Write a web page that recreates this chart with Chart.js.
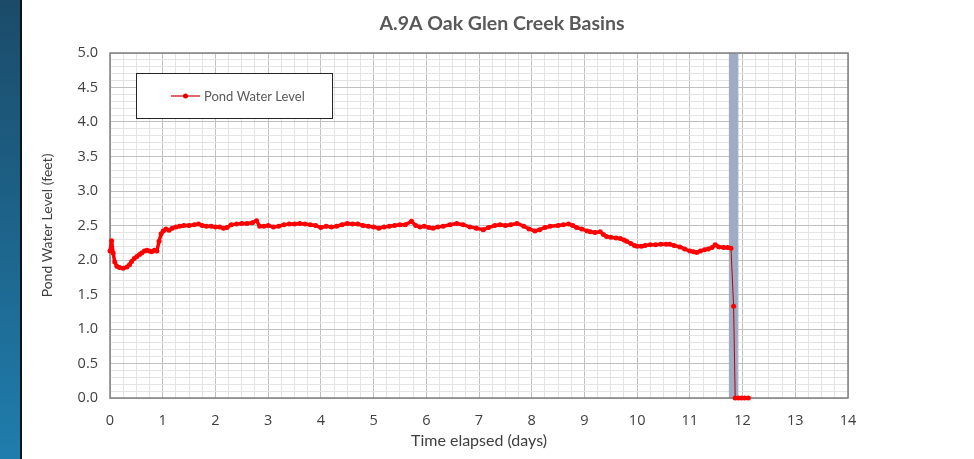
<!DOCTYPE html>
<html>
<head>
<meta charset="utf-8">
<title>A.9A Oak Glen Creek Basins</title>
<script src="https://cdn.jsdelivr.net/npm/chart.js@4.4.1/dist/chart.umd.min.js"></script>
<style>
  html, body { margin: 0; padding: 0; background: #fff; }
  .page { position: relative; width: 974px; height: 459px; overflow: hidden; }
  .side { position: absolute; left: 0; top: 0; width: 20px; height: 459px;
          background: linear-gradient(#1b4b69, #1f7dad); border-right: 2px solid #111; }
  #chart { position: absolute; left: 0; top: 0; }
</style>
</head>
<body>
<div class="page">
  <div class="side"></div>
  <canvas id="chart" width="974" height="459"></canvas>
</div>
<script>
// Pond water level readings (time in days, level in feet)
const days = [
  0.00, 0.03, 0.06, 0.09, 0.13, 0.18, 0.25, 0.32, 0.37, 0.41, 0.46, 0.51, 0.56, 0.60, 0.65, 0.70, 0.75, 0.79, 0.84, 0.89,
  0.93, 0.97, 1.01, 1.06, 1.12, 1.18, 1.25, 1.32, 1.40, 1.50, 1.60, 1.68, 1.75, 1.83, 1.92, 2.00, 2.08, 2.15, 2.22, 2.30,
  2.40, 2.50, 2.60, 2.70, 2.78, 2.84, 2.92, 3.00, 3.10, 3.20, 3.30, 3.40, 3.50, 3.60, 3.70, 3.80, 3.90, 4.00, 4.10, 4.20,
  4.30, 4.40, 4.50, 4.60, 4.70, 4.80, 4.90, 5.00, 5.10, 5.20, 5.30, 5.40, 5.50, 5.60, 5.72, 5.80, 5.88, 5.96, 6.05, 6.13,
  6.22, 6.32, 6.45, 6.58, 6.70, 6.83, 6.95, 7.08, 7.18, 7.30, 7.40, 7.50, 7.60, 7.72, 7.85, 7.95, 8.06, 8.15, 8.25, 8.35,
  8.50, 8.60, 8.70, 8.78, 8.85, 8.95, 9.05, 9.11, 9.20, 9.30, 9.36, 9.42, 9.50, 9.60, 9.68, 9.75, 9.80, 9.88, 9.95, 10.00,
  10.08, 10.15, 10.25, 10.35, 10.45, 10.55, 10.62, 10.70, 10.81, 10.90, 11.00, 11.07, 11.13, 11.20, 11.28, 11.35, 11.42, 11.48, 11.55, 11.64,
  11.72, 11.78, 11.83, 11.86, 11.92, 11.98, 12.04, 12.11
];
const level = [
  2.13, 2.28, 2.10, 1.97, 1.91, 1.89, 1.88, 1.90, 1.93, 1.98, 2.02, 2.05, 2.08, 2.10, 2.13, 2.14, 2.13, 2.12, 2.14, 2.13,
  2.27, 2.38, 2.42, 2.45, 2.43, 2.46, 2.48, 2.49, 2.50, 2.50, 2.51, 2.52, 2.50, 2.49, 2.49, 2.48, 2.48, 2.46, 2.47, 2.51,
  2.52, 2.53, 2.53, 2.54, 2.57, 2.49, 2.49, 2.50, 2.48, 2.49, 2.51, 2.52, 2.52, 2.53, 2.52, 2.51, 2.50, 2.47, 2.49, 2.48,
  2.49, 2.51, 2.53, 2.52, 2.52, 2.50, 2.49, 2.48, 2.46, 2.48, 2.49, 2.50, 2.51, 2.51, 2.56, 2.50, 2.48, 2.49, 2.47, 2.46,
  2.48, 2.49, 2.51, 2.53, 2.51, 2.48, 2.46, 2.44, 2.47, 2.50, 2.51, 2.50, 2.51, 2.53, 2.49, 2.45, 2.42, 2.44, 2.47, 2.49,
  2.50, 2.51, 2.52, 2.50, 2.47, 2.45, 2.42, 2.41, 2.40, 2.41, 2.37, 2.34, 2.33, 2.32, 2.31, 2.29, 2.27, 2.24, 2.21, 2.20,
  2.20, 2.21, 2.22, 2.22, 2.23, 2.23, 2.23, 2.21, 2.19, 2.16, 2.13, 2.12, 2.11, 2.13, 2.15, 2.16, 2.18, 2.22, 2.19, 2.18,
  2.18, 2.17, 1.33, 0.00, 0.00, 0.00, 0.00, 0.00
];

// axis ranges and shaded period (days)
const xRange = [0, 14];
const yRange = [0, 5];
const xMajorStep = 1, xMinorStep = 0.25;
const yMajorStep = 0.5, yMinorStep = 0.1;
const shadedDays = [11.74, 11.92];

const chartTitle = 'A.9A Oak Glen Creek Basins';
const seriesName = 'Pond Water Level';

const points = days.map((d, i) => ({ x: d, y: level[i] }));

const isMajor = (v, step) => Math.abs(v / step - Math.round(v / step)) < 1e-6;

const decor = {
  id: 'decor',
  beforeDatasetsDraw(chart) {
    const { ctx, chartArea: a, scales: { x } } = chart;
    ctx.save();
    // shaded band
    const x0 = x.getPixelForValue(shadedDays[0]);
    const x1 = x.getPixelForValue(shadedDays[1]);
    ctx.fillStyle = '#a0abc4';
    ctx.fillRect(x0, a.top, x1 - x0, a.bottom - a.top);
    // plot frame
    ctx.strokeStyle = '#808080';
    ctx.lineWidth = 1.5;
    ctx.strokeRect(a.left, a.top, a.right - a.left, a.bottom - a.top);
    ctx.restore();
  },
  afterDraw(chart) {
    const { ctx } = chart;
    ctx.save();
    // title
    ctx.font = 'bold 19.5px Lato';
    ctx.fillStyle = '#595959';
    ctx.textAlign = 'center';
    ctx.textBaseline = 'middle';
    ctx.fillText(chartTitle, 502, 24);
    // legend box
    ctx.fillStyle = '#fff';
    ctx.fillRect(136.5, 73.5, 196, 45);
    ctx.strokeStyle = '#262626';
    ctx.lineWidth = 1;
    ctx.strokeRect(136.5, 73.5, 196, 45);
    ctx.strokeStyle = '#d00000';
    ctx.lineWidth = 1.2;
    ctx.beginPath();
    ctx.moveTo(171, 96);
    ctx.lineTo(200, 96);
    ctx.stroke();
    ctx.fillStyle = '#e00000';
    ctx.beginPath();
    ctx.arc(185.5, 96, 2.5, 0, Math.PI * 2);
    ctx.fill();
    ctx.font = '13px Lato';
    ctx.fillStyle = '#595959';
    ctx.textAlign = 'left';
    ctx.fillText(seriesName, 204, 96.5);
    ctx.restore();
  }
};

new Chart(document.getElementById('chart'), {
  type: 'line',
  data: {
    datasets: [{
      label: seriesName,
      data: points,
      borderColor: '#ff0000',
      borderWidth: 3.5,
      borderJoinStyle: 'round',
      borderCapStyle: 'round',
      pointRadius: 2.5,
      pointBorderWidth: 0,
      pointBackgroundColor: '#ff0000',
      tension: 0,
      clip: 6,
      segment: {
        borderColor: c => Math.abs(c.p1.parsed.y - c.p0.parsed.y) > 0.5 ? '#b80000' : undefined,
        borderWidth: c => Math.abs(c.p1.parsed.y - c.p0.parsed.y) > 0.5 ? 1 : undefined
      }
    }]
  },
  options: {
    responsive: false,
    animation: false,
    layout: { padding: { left: 30, right: 126, top: 53, bottom: 0 } },
    plugins: {
      legend: { display: false },
      title: { display: false },
      tooltip: { enabled: false }
    },
    scales: {
      x: {
        type: 'linear',
        min: xRange[0],
        max: xRange[1],
        afterFit: s => { s.height = 61; },
        border: { display: false },
        grid: {
          drawTicks: false,
          color: c => (c.tick && isMajor(c.tick.value, xMajorStep)) ? '#c0c0c0' : '#e4e4e4',
          lineWidth: 1
        },
        ticks: {
          stepSize: xMinorStep,
          autoSkip: false,
          maxRotation: 0,
          padding: 14,
          color: '#404040',
          font: { family: 'Open Sans', size: 14.5 },
          callback: v => isMajor(v, xMajorStep) ? String(Math.round(v)) : ''
        },
        title: {
          display: true,
          text: 'Time elapsed (days)',
          color: '#404040',
          font: { family: 'Lato', size: 16 },
          padding: { top: 0, bottom: 9 }
        }
      },
      y: {
        min: yRange[0],
        max: yRange[1],
        afterFit: s => { s.width = 80; },
        border: { display: false },
        grid: {
          drawTicks: false,
          color: c => (c.tick && isMajor(c.tick.value, yMajorStep)) ? '#c0c0c0' : '#e4e4e4',
          lineWidth: 1
        },
        ticks: {
          stepSize: yMinorStep,
          autoSkip: false,
          padding: 12,
          color: '#404040',
          font: { family: 'Open Sans', size: 14.5 },
          callback: v => isMajor(v, yMajorStep) ? v.toFixed(1) : ''
        },
        title: {
          display: true,
          text: 'Pond Water Level (feet)',
          color: '#404040',
          font: { family: 'Lato', size: 14 },
          padding: { top: 9, bottom: 0 }
        }
      }
    }
  },
  plugins: [decor]
});
</script>
</body>
</html>
